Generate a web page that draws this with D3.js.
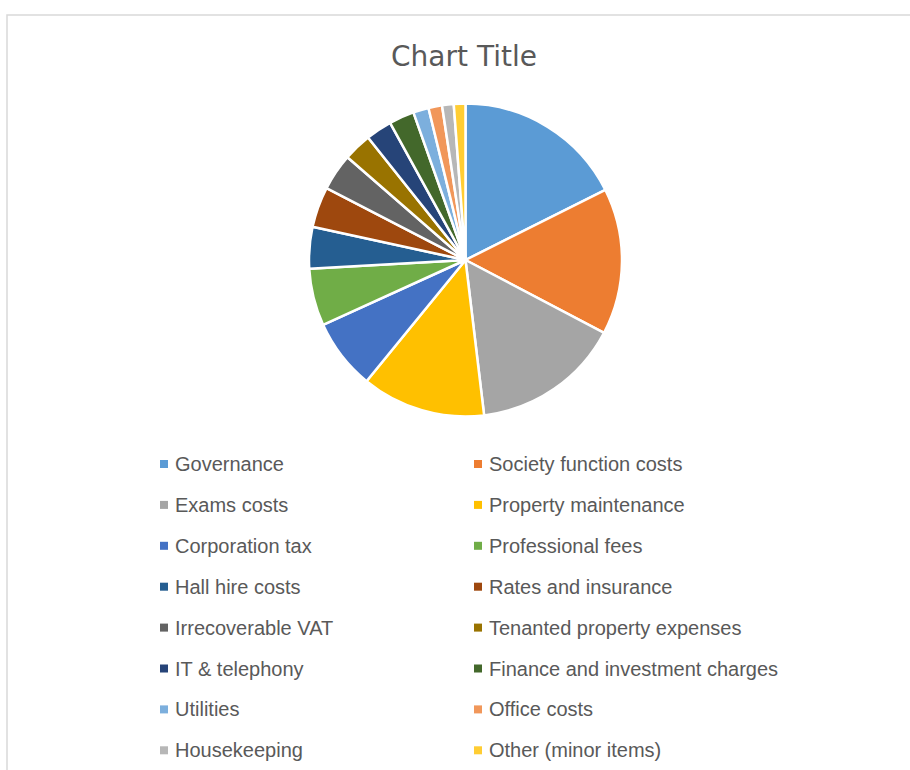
<!DOCTYPE html>
<html>
<head>
<meta charset="utf-8">
<script src="https://cdn.jsdelivr.net/npm/d3@7"></script>
<style>
  html, body { margin: 0; padding: 0; background: #fff; }
</style>
</head>
<body>
<div id="chart"></div>
<script>
const WIDTH = 910;
const HEIGHT = 770;

// slice values (share of total)
const categories = [
  "Governance", "Society function costs", "Exams costs", "Property maintenance",
  "Corporation tax", "Professional fees", "Hall hire costs", "Rates and insurance",
  "Irrecoverable VAT", "Tenanted property expenses", "IT & telephony",
  "Finance and investment charges", "Utilities", "Office costs",
  "Housekeeping", "Other (minor items)"
];
const values = [17.6, 15.1, 15.4, 12.8, 7.3, 5.9, 4.3, 4.2, 3.8, 2.9, 2.7, 2.6, 1.6, 1.4, 1.2, 1.2];
const colors = [
  "#5B9BD5", "#ED7D31", "#A5A5A5", "#FFC000", "#4472C4", "#70AD47", "#255E91", "#9E480E",
  "#636363", "#997300", "#264478", "#43682B", "#7CAFDD", "#F1975A", "#B7B7B7", "#FFCD33"
];
const title = "Chart Title";

const PIE = { cx: 465.5, cy: 260, r: 156.5 };
const LEGEND = { top: 464, rowStep: 40.9, colX: [160, 474], marker: 8, textGap: 15 };

const data = categories.map((c, i) => ({ name: c, value: values[i] }));

const color = d3.scaleOrdinal().domain(categories).range(colors);

const svg = d3.select("#chart")
  .append("svg")
  .attr("width", WIDTH)
  .attr("height", HEIGHT)
  .style("display", "block");

// chart area frame (cut off by the screenshot on the right and bottom)
svg.append("rect")
  .attr("x", 7)
  .attr("y", 15)
  .attr("width", WIDTH + 20)
  .attr("height", HEIGHT + 20)
  .attr("fill", "#fff")
  .attr("stroke", "#d9d9d9")
  .attr("stroke-width", 1.5);

svg.append("text")
  .attr("x", 464)
  .attr("y", 66)
  .attr("text-anchor", "middle")
  .attr("font-family", "DejaVu Sans, sans-serif")
  .attr("font-size", "28px")
  .attr("fill", "#595959")
  .text(title);

// Pie
const pie = d3.pie().value(d => d.value).sort(null);
const arc = d3.arc().innerRadius(0).outerRadius(PIE.r);

svg.append("g")
  .attr("transform", `translate(${PIE.cx},${PIE.cy})`)
  .selectAll("path")
  .data(pie(data))
  .join("path")
  .attr("d", arc)
  .attr("fill", d => color(d.data.name))
  .attr("stroke", "#fff")
  .attr("stroke-width", 2.5)
  .attr("stroke-linejoin", "round");

// Legend, two columns
const legend = svg.append("g");
const item = legend.selectAll("g")
  .data(data)
  .join("g")
  .attr("transform", (d, i) =>
    `translate(${LEGEND.colX[i % 2]},${LEGEND.top + Math.floor(i / 2) * LEGEND.rowStep})`);

item.append("rect")
  .attr("x", 0)
  .attr("y", -LEGEND.marker / 2)
  .attr("width", LEGEND.marker)
  .attr("height", LEGEND.marker)
  .attr("fill", d => color(d.name));

item.append("text")
  .attr("x", LEGEND.textGap)
  .attr("y", 7)
  .attr("font-family", "Liberation Sans, Arial, sans-serif")
  .attr("font-size", "20px")
  .attr("fill", "#595959")
  .text(d => d.name);
</script>
</body>
</html>
